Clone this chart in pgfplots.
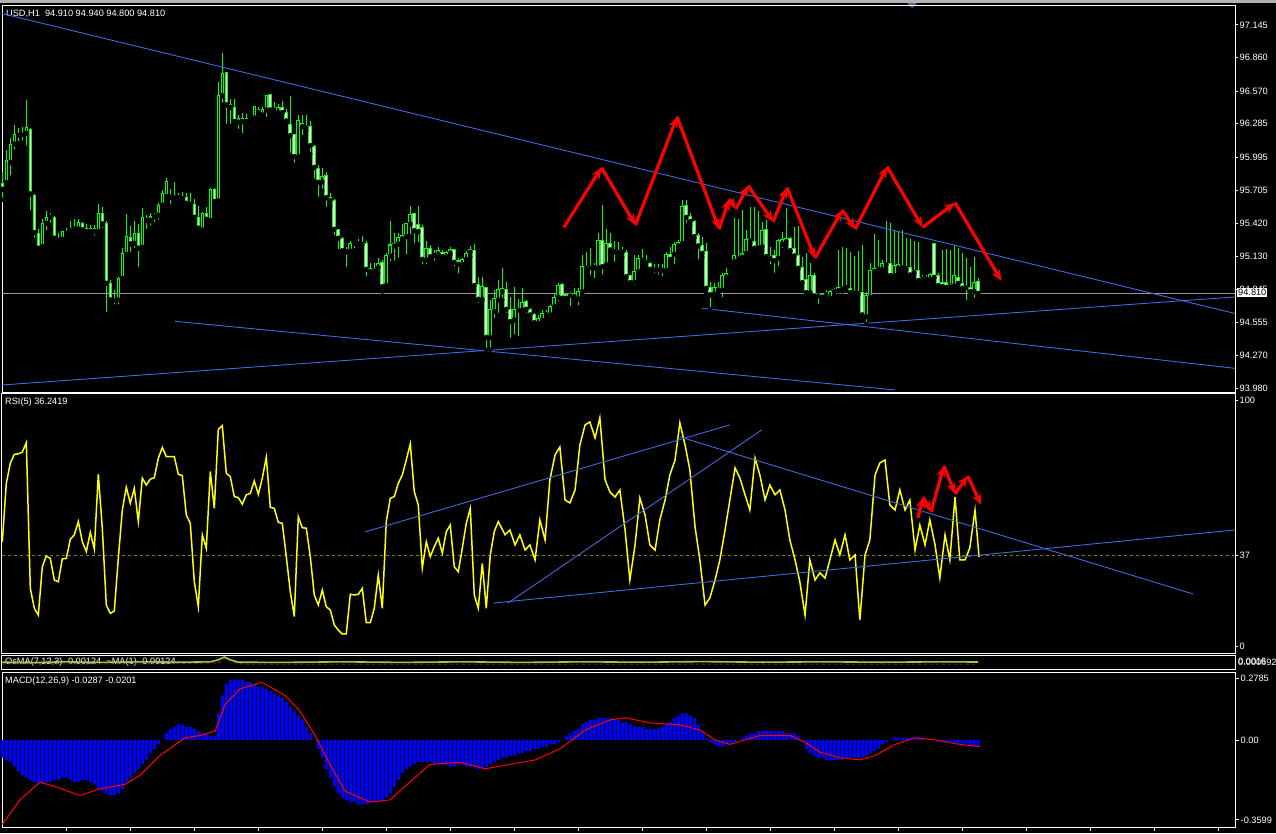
\documentclass[border=0pt]{standalone}
\usepackage{pgfplots}
\pgfplotsset{compat=1.18}
\usepackage{pgfplotstable}
\usepackage{fontspec}
\setmainfont{Liberation Sans}
\usetikzlibrary{arrows.meta}
\definecolor{mtblue}{RGB}{65,105,225}
\definecolor{mtlime}{RGB}{0,255,0}
\definecolor{mtolive}{RGB}{128,128,0}
\definecolor{mtgreen}{RGB}{154,205,50}
\definecolor{mtpurple}{RGB}{150,0,150}
\newcommand\mtfont{\fontsize{9.2}{10}\selectfont}

\pgfplotstableread{
i o h l c
0 95.767 95.869 95.622 95.715
1 95.773 96.057 95.760 95.961
2 95.947 96.159 95.816 96.106
3 96.109 96.275 96.043 96.188
4 96.188 96.246 96.115 96.193
5 96.193 96.254 96.121 96.196
6 96.202 96.492 96.077 96.254
7 96.237 96.245 95.512 95.674
8 95.657 95.674 95.274 95.338
9 95.330 95.367 95.196 95.202
10 95.216 95.457 95.196 95.419
11 95.419 95.526 95.338 95.471
12 95.471 95.506 95.405 95.483
13 95.471 95.486 95.283 95.289
14 95.280 95.338 95.239 95.268
15 95.280 95.352 95.239 95.344
16 95.344 95.376 95.294 95.332
17 95.355 95.436 95.312 95.376
18 95.376 95.454 95.338 95.384
19 95.370 95.457 95.338 95.422
20 95.419 95.428 95.326 95.361
21 95.376 95.413 95.303 95.347
22 95.347 95.405 95.332 95.376
23 95.376 95.405 95.294 95.347
24 95.347 95.587 95.303 95.506
25 95.506 95.558 95.361 95.413
26 95.419 95.440 94.630 94.897
27 94.897 94.926 94.732 94.752
28 94.752 94.839 94.694 94.758
29 94.752 94.955 94.694 94.940
30 94.940 95.202 94.903 95.158
31 95.149 95.500 95.138 95.303
32 95.297 95.396 95.149 95.239
33 95.245 95.439 95.187 95.332
34 95.332 95.413 95.022 95.202
35 95.210 95.550 95.164 95.471
36 95.460 95.492 95.352 95.442
37 95.442 95.506 95.381 95.477
38 95.477 95.506 95.413 95.489
39 95.489 95.593 95.434 95.576
40 95.576 95.709 95.535 95.680
41 95.651 95.816 95.616 95.784
42 95.657 95.715 95.564 95.645
43 95.645 95.776 95.631 95.651
44 95.651 95.680 95.616 95.640
45 95.640 95.692 95.608 95.630
46 95.645 95.680 95.564 95.593
47 95.593 95.680 95.558 95.584
48 95.584 95.631 95.442 95.471
49 95.471 95.570 95.338 95.376
50 95.361 95.521 95.347 95.500
51 95.500 95.564 95.434 95.454
52 95.442 95.729 95.434 95.715
53 95.715 95.729 95.587 95.608
54 95.613 96.652 95.573 96.527
55 96.527 96.898 96.449 96.718
56 96.733 96.739 96.266 96.449
57 96.449 96.498 96.266 96.428
58 96.428 96.501 96.298 96.304
59 96.298 96.362 96.222 96.327
60 96.327 96.376 96.182 96.304
61 96.304 96.370 96.260 96.333
62 96.341 96.347 96.335 96.341
63 96.335 96.440 96.333 96.434
64 96.405 96.428 96.347 96.385
65 96.362 96.428 96.353 96.411
66 96.405 96.527 96.327 96.527
67 96.536 96.536 96.362 96.405
68 96.408 96.478 96.376 96.408
69 96.382 96.454 96.370 96.428
70 96.428 96.483 96.376 96.382
71 96.385 96.411 96.295 96.309
72 96.275 96.527 96.014 96.182
73 96.188 96.188 95.927 95.999
74 95.999 96.362 95.999 96.309
75 96.289 96.362 96.167 96.260
76 96.260 96.362 96.225 96.254
77 96.260 96.309 96.022 96.095
78 96.086 96.100 95.790 95.906
79 95.898 95.927 95.631 95.776
80 95.780 95.898 95.703 95.825
81 95.831 95.869 95.544 95.642
82 95.645 95.686 95.570 95.616
83 95.613 95.631 95.297 95.367
84 95.361 95.370 95.173 95.289
85 95.289 95.297 95.138 95.181
86 95.181 95.216 95.022 95.170
87 95.178 95.268 95.149 95.245
88 95.245 95.265 95.181 95.254
89 95.254 95.280 95.207 95.239
90 95.239 95.309 95.230 95.245
91 95.239 95.265 94.938 95.019
92 95.027 95.071 94.955 94.999
93 95.001 95.077 94.955 95.013
94 95.033 95.115 94.984 95.071
95 95.080 95.100 94.825 94.868
96 94.877 95.164 94.877 95.135
97 95.135 95.439 95.071 95.230
98 95.222 95.338 95.077 95.239
99 95.239 95.332 95.100 95.294
100 95.283 95.413 95.259 95.312
101 95.303 95.425 95.129 95.413
102 95.413 95.570 95.303 95.497
103 95.506 95.512 95.225 95.355
104 95.405 95.570 95.239 95.347
105 95.384 95.405 95.042 95.106
106 95.100 95.265 95.042 95.202
107 95.202 95.230 95.094 95.129
108 95.138 95.187 95.077 95.149
109 95.149 95.216 95.138 95.178
110 95.167 95.187 95.109 95.129
111 95.129 95.178 95.115 95.167
112 95.158 95.210 95.143 95.187
113 95.187 95.187 95.027 95.080
114 95.091 95.115 94.964 95.062
115 95.062 95.115 95.022 95.100
116 95.106 95.178 95.094 95.152
117 95.167 95.222 95.129 95.187
118 95.178 95.239 94.839 94.877
119 94.886 94.955 94.709 94.758
120 94.758 94.955 94.746 94.868
121 94.862 94.862 94.317 94.427
122 94.427 94.752 94.317 94.665
123 94.654 94.839 94.578 94.761
124 94.752 94.926 94.622 94.839
125 94.825 95.028 94.752 94.854
126 94.839 94.912 94.622 94.671
127 94.671 94.781 94.404 94.564
128 94.578 94.868 94.433 94.665
129 94.665 94.758 94.419 94.668
130 94.665 94.854 94.651 94.729
131 94.738 94.752 94.622 94.671
132 94.671 94.680 94.593 94.622
133 94.627 94.636 94.543 94.555
134 94.549 94.622 94.535 94.587
135 94.575 94.665 94.535 94.636
136 94.636 94.665 94.593 94.622
137 94.622 94.709 94.607 94.694
138 94.694 94.804 94.694 94.775
139 94.775 94.897 94.723 94.877
140 94.883 94.897 94.752 94.767
141 94.796 94.810 94.738 94.767
142 94.796 94.825 94.680 94.796
143 94.781 94.854 94.738 94.810
144 94.761 94.854 94.688 94.825
145 94.825 95.144 94.810 95.042
146 95.042 95.173 95.010 95.036
147 95.036 95.202 94.949 95.042
148 95.042 95.071 94.920 95.033
149 95.033 95.332 95.000 95.265
150 95.265 95.579 94.955 95.042
151 95.057 95.367 95.042 95.245
152 95.245 95.332 95.152 95.187
153 95.187 95.268 95.065 95.173
154 95.173 95.259 95.152 95.178
155 95.178 95.216 95.123 95.167
156 95.167 95.187 94.949 94.955
157 94.961 94.970 94.883 94.903
158 94.906 95.144 94.859 95.000
159 95.000 95.144 94.984 95.115
160 95.100 95.193 95.057 95.091
161 95.094 95.144 95.042 95.086
162 95.065 95.086 95.000 95.019
163 95.019 95.065 94.970 95.022
164 95.022 95.065 94.955 95.013
165 95.019 95.065 94.940 95.007
166 95.010 95.173 94.970 95.144
167 95.150 95.216 95.086 95.106
168 95.150 95.259 95.042 95.231
169 95.222 95.274 95.202 95.251
170 95.245 95.622 95.202 95.564
171 95.570 95.622 95.405 95.471
172 95.480 95.506 95.405 95.434
173 95.434 95.448 95.289 95.303
174 95.309 95.332 95.086 95.222
175 95.222 95.303 95.123 95.158
176 95.173 95.245 94.810 94.854
177 94.862 94.912 94.671 94.796
178 94.804 94.897 94.767 94.862
179 94.862 94.912 94.804 94.839
180 94.839 94.984 94.758 94.961
181 94.949 95.028 94.935 94.978
182 94.967 94.970 94.964 94.967
183 95.086 95.463 95.086 95.135
184 95.106 95.454 95.086 95.123
185 95.123 95.535 95.115 95.158
186 95.158 95.361 95.144 95.274
187 95.268 95.558 95.245 95.283
188 95.259 95.564 95.187 95.202
189 95.202 95.526 95.158 95.216
190 95.216 95.434 95.187 95.352
191 95.361 95.448 95.100 95.129
192 95.129 95.216 95.042 95.112
193 95.135 95.187 94.970 95.094
194 95.115 95.280 95.028 95.265
195 95.239 95.347 95.187 95.274
196 95.259 95.550 95.230 95.289
197 95.289 95.303 95.173 95.181
198 95.202 95.390 95.129 95.135
199 95.141 95.396 95.013 95.028
200 95.030 95.129 94.897 94.903
201 94.932 95.158 94.810 94.816
202 94.816 95.071 94.810 94.961
203 94.967 94.984 94.781 94.787
204 94.787 94.810 94.700 94.796
205 94.775 94.810 94.746 94.796
206 94.796 94.839 94.752 94.810
207 94.767 94.839 94.758 94.825
208 94.825 94.854 94.796 94.839
209 94.833 95.187 94.825 94.859
210 94.854 95.216 94.825 94.859
211 94.859 95.202 94.839 94.868
212 94.854 95.173 94.810 94.816
213 94.810 95.135 94.796 94.825
214 94.804 95.181 94.796 94.819
215 94.819 95.230 94.607 94.622
216 94.607 94.825 94.543 94.790
217 94.775 95.071 94.767 95.004
218 95.000 95.326 94.984 95.028
219 95.019 95.274 95.013 95.033
220 95.019 95.100 95.007 95.071
221 95.065 95.439 95.057 95.071
222 95.071 95.419 94.955 94.964
223 94.964 95.361 94.955 95.048
224 95.028 95.347 95.013 95.062
225 95.042 95.361 95.013 95.028
226 95.033 95.289 95.013 95.022
227 95.036 95.280 94.961 94.970
228 94.990 95.268 94.978 95.004
229 95.004 95.259 94.897 94.920
230 94.932 94.970 94.912 94.946
231 94.946 94.970 94.903 94.932
232 94.932 94.990 94.920 94.970
233 95.245 95.245 94.941 94.949
234 94.964 94.984 94.868 94.877
235 94.906 95.187 94.862 94.868
236 94.906 95.193 94.845 94.862
237 94.888 95.187 94.862 94.868
238 94.874 95.230 94.868 94.961
239 94.949 95.207 94.891 94.897
240 94.897 95.164 94.839 94.854
241 94.868 95.120 94.729 94.862
242 94.859 95.036 94.781 94.825
243 94.825 95.129 94.752 94.906
244 94.910 94.940 94.800 94.810
}\candles

\pgfplotstableread{
i v
0 42.5
1 66.3
2 74.5
3 78.1
4 78.3
5 79.0
6 82.9
7 23.5
8 15.4
9 12.6
10 32.3
11 36.7
12 35.7
13 26.9
14 26.2
15 35.5
16 35.7
17 43.5
18 45.3
19 50.7
20 42.5
21 38.5
22 46.3
23 39.5
24 70.0
25 48.0
26 16.7
27 13.3
28 14.3
29 35.7
30 55.4
31 64.7
32 58.2
33 64.3
34 50.7
35 68.4
36 65.6
37 68.0
38 68.6
39 76.5
40 80.9
41 77.2
42 77.2
43 77.2
44 70.0
45 69.4
46 53.4
47 50.0
48 26.2
49 16.0
50 45.3
51 39.8
52 71.1
53 56.1
54 88.3
55 89.8
56 70.4
57 69.0
58 60.9
59 60.5
60 57.8
61 61.6
62 62.2
63 67.3
64 61.8
65 68.4
66 76.9
67 56.5
68 56.1
69 50.4
70 50.0
71 36.4
72 22.2
73 12.0
74 52.7
75 48.2
76 48.0
77 36.4
78 20.8
79 16.7
80 22.8
81 16.0
82 14.7
83 8.6
84 6.5
85 4.9
86 4.9
87 21.1
88 20.8
89 21.1
90 23.5
91 9.5
92 9.5
93 15.4
94 28.9
95 15.4
96 50.7
97 60.2
98 60.9
99 66.3
100 69.7
101 75.8
102 82.4
103 62.9
104 57.5
105 31.7
106 42.5
107 36.4
108 40.5
109 43.9
110 37.8
111 46.6
112 49.3
113 32.3
114 30.3
115 39.8
116 50.0
117 56.1
118 20.8
119 15.4
120 33.7
121 15.4
122 37.1
123 46.6
124 50.7
125.7 45.3
126.9 47.3
128.2 41.2
129.4 45.3
130.7 39.1
131.9 41.2
133.2 35.1
134.4 51.4
135.7 43.2
136.9 67.7
138.2 77.9
139.4 81.1
140.7 59.5
141.9 58.3
143.2 63.6
144.4 81.9
145.7 90.1
146.9 91.3
148.2 84.8
149.4 93.0
150.7 67.7
151.9 62.8
153.2 60.7
154.4 63.6
155.7 47.3
156.9 26.9
158.2 41.2
159.4 60.3
160.7 53.4
161.9 41.2
163.2 39.1
164.4 51.4
165.7 59.5
166.9 69.7
168.2 75.8
169.4 90.9
170.7 81.9
171.9 71.8
173.2 48.5
174.4 35.1
175.7 16.7
176.9 19.6
178.2 26.9
179.4 35.1
180.7 47.3
181.9 59.5
183.2 72.6
184.4 68.5
185.7 61.6
186.9 55.4
188.2 76.6
189.4 69.7
190.7 59.5
191.9 65.6
193.2 61.6
194.4 63.6
195.7 55.4
196.9 43.2
198.2 35.1
199.4 26.1
200.7 12.6
201.9 35.1
203.2 26.9
204.4 29.8
205.7 27.7
206.9 35.1
208.2 43.2
209.4 37.1
210.7 45.3
211.9 35.1
213.2 37.1
214.4 10.6
215.7 37.1
216.9 43.2
218.2 69.7
219.4 74.6
220.7 75.8
221.9 57.5
223.2 55.4
224.4 63.6
225.7 55.4
226.9 59.5
228.2 39.1
229.4 49.3
230.7 41.2
231.9 51.4
233.2 41.2
234.4 27.7
235.7 45.3
236.9 35.1
238.2 60.7
239.4 35.1
240.7 35.1
241.9 40.0
243.2 55.4
244.2 36.2
}\rsi

\pgfplotstableread{
i v
0 -0.08
1 -0.09
2 -0.10
3 -0.12
4 -0.14
5 -0.16
6 -0.17
7 -0.18
8 -0.19
9 -0.20
10 -0.20
11 -0.19
12 -0.19
13 -0.18
14 -0.18
15 -0.17
16 -0.17
17 -0.18
18 -0.19
19 -0.19
20 -0.18
21 -0.18
22 -0.19
23 -0.20
24 -0.22
25 -0.23
26 -0.24
27 -0.25
28 -0.25
29 -0.24
30 -0.22
31 -0.19
32 -0.17
33 -0.15
34 -0.13
35 -0.11
36 -0.09
37 -0.06
38 -0.04
39 -0.02
40 0.00
41 0.03
42 0.05
43 0.06
44 0.07
45 0.07
46 0.06
47 0.06
48 0.05
49 0.04
50 0.03
51 0.03
52 0.02
53 0.02
54 0.12
55 0.20
56 0.25
57 0.27
58 0.27
59 0.27
60 0.27
61 0.26
62 0.26
63 0.25
64 0.24
65 0.24
66 0.23
67 0.22
68 0.21
69 0.20
70 0.19
71 0.17
72 0.15
73 0.13
74 0.11
75 0.09
76 0.06
77 0.03
78 0.00
79 -0.04
80 -0.08
81 -0.13
82 -0.17
83 -0.21
84 -0.24
85 -0.26
86 -0.27
87 -0.28
88 -0.28
89 -0.29
90 -0.29
91 -0.29
92 -0.28
93 -0.28
94 -0.28
95 -0.27
96 -0.26
97 -0.24
98 -0.21
99 -0.18
100 -0.15
101 -0.13
102 -0.12
103 -0.11
104 -0.10
105 -0.10
106 -0.10
107 -0.10
108 -0.11
109 -0.11
110 -0.11
111 -0.11
112 -0.12
113 -0.12
114 -0.11
115 -0.11
116 -0.12
117 -0.12
118 -0.12
119 -0.13
120 -0.13
121 -0.12
122 -0.11
123 -0.10
124 -0.09
125 -0.08
126 -0.08
127 -0.07
128 -0.07
129 -0.06
130 -0.06
131 -0.05
132 -0.05
133 -0.04
134 -0.04
135 -0.03
136 -0.03
137 -0.02
138 -0.02
139 -0.01
140 0.00
141 0.02
142 0.03
143 0.04
144 0.05
145 0.07
146 0.08
147 0.09
148 0.09
149 0.10
150 0.10
151 0.10
152 0.10
153 0.09
154 0.09
155 0.08
156 0.08
157 0.07
158 0.06
159 0.06
160 0.06
161 0.05
162 0.05
163 0.05
164 0.05
165 0.06
166 0.07
167 0.08
168 0.10
169 0.11
170 0.12
171 0.12
172 0.11
173 0.10
174 0.07
175 0.04
176 0.01
177 -0.01
178 -0.02
179 -0.03
180 -0.03
181 -0.02
182 -0.02
183 -0.01
184 0.00
185 0.01
186 0.02
187 0.03
188 0.03
189 0.04
190 0.04
191 0.04
192 0.04
193 0.04
194 0.04
195 0.04
196 0.03
197 0.03
198 0.03
199 0.02
200 -0.01
201 -0.04
202 -0.06
203 -0.07
204 -0.08
205 -0.08
206 -0.09
207 -0.09
208 -0.09
209 -0.09
210 -0.09
211 -0.08
212 -0.08
213 -0.08
214 -0.08
215 -0.08
216 -0.07
217 -0.06
218 -0.05
219 -0.04
220 -0.02
221 -0.01
222 0.00
223 0.01
224 0.01
225 0.01
226 0.01
227 0.01
228 0.01
229 0.01
230 0.01
231 0.00
232 0.00
233 0.00
234 -0.01
235 -0.01
236 -0.01
237 -0.01
238 -0.02
239 -0.02
240 -0.02
241 -0.02
242 -0.03
243 -0.03
244 -0.03
}\macdhist

\pgfplotsset{
  mtaxis/.style={scale only axis, anchor=north west, clip=false,
    axis line style={white, line width=1pt},
    xmin=-0.08, xmax=308.2, xtick=\empty,
    ytick pos=right, yticklabel pos=right, tick align=outside,
    major tick length=3pt, tick style={white, line width=0.8pt},
    yticklabel style={white, font=\mtfont, inner sep=1.5pt},
    xticklabel style={white, font=\mtfont}},
  candle/.style 2 args={only marks, mark=none, forget plot,
    error bars/.cd, y dir=plus, y explicit, error mark=none,
    error bar style={line width=#1, draw=#2, solid}},
  redarr/.style={red, line width=3.2pt, -{Stealth[length=11pt,width=9pt]}},
  tline/.style={mtblue, line width=0.9pt},
}

\begin{document}
\begin{tikzpicture}
\useasboundingbox (0pt,0pt) rectangle (1276pt,-833pt);
\fill[black] (0pt,0pt) rectangle (1276pt,-833pt);
\fill[gray!60] (0pt,0pt) rectangle (1276pt,-3pt);
\fill[gray!70!blue] (907pt,-3pt) -- (917pt,-3pt) -- (912pt,-8pt) -- cycle;

% ---------------- main price panel ----------------
\begin{axis}[mtaxis, at={(2pt,-5pt)}, width=1233pt, height=387pt,
  ymin=93.951, ymax=97.318,
  ytick={97.145,96.86,96.57,96.285,95.995,95.705,95.42,95.13,94.845,94.555,94.27,93.98},
  yticklabels={97.145,96.860,96.570,96.285,95.995,95.705,95.420,95.130,94.845,94.555,94.270,93.980}]
\node[anchor=north west, white, font=\mtfont, inner sep=0pt, xshift=4pt, yshift=-4.5pt] at (rel axis cs:0,1) {USD,H1\ \ 94.910 94.940 94.800 94.810};
\addplot[gray!80, line width=0.8pt] coordinates {(-0.08,94.81) (308.2,94.81)};
% wicks
\addplot[candle={1pt}{mtlime}] table[x=i, y=l, y error plus expr={\thisrow{h}-\thisrow{l}}] {\candles};
% body outline
\addplot[candle={3.6pt}{mtlime}] table[x=i, y expr={min(\thisrow{o},\thisrow{c})-0.0044}, y error plus expr={abs(\thisrow{c}-\thisrow{o})+0.0088}] {\candles};
% bear bodies (white)
\addplot[restrict expr to domain={\thisrow{o}-\thisrow{c}}{0.0089:10}, candle={1.6pt}{white}] table[x=i, y expr={\thisrow{c}+0.0044}, y error plus expr={\thisrow{o}-\thisrow{c}-0.0088}] {\candles};
% bull bodies (black)
\addplot[restrict expr to domain={\thisrow{c}-\thisrow{o}}{0.0089:10}, candle={1.6pt}{black}] table[x=i, y expr={\thisrow{o}+0.0044}, y error plus expr={\thisrow{c}-\thisrow{o}-0.0088}] {\candles};
% trend lines
\addplot[tline] coordinates {(-0.08,97.244) (308.2,94.634)};
\addplot[tline] coordinates {(-0.08,94.012) (308.2,94.778)};
\addplot[tline] coordinates {(43.2,94.566) (223.2,93.969)};
\addplot[tline] coordinates {(174.9,94.680) (308.2,94.157)};
% red zigzag arrows
\addplot[redarr] coordinates {(140.4,95.384) (149.8,95.903)};
\addplot[redarr] coordinates {(149.8,95.903) (158.3,95.404)};
\addplot[redarr] coordinates {(158.3,95.404) (168.7,96.346)};
\addplot[redarr] coordinates {(168.7,96.346) (179.2,95.367)};
\addplot[redarr] coordinates {(179.2,95.367) (181.7,95.630)};
\addplot[redarr] coordinates {(181.7,95.630) (183.4,95.543)};
\addplot[redarr] coordinates {(183.4,95.543) (186.5,95.746)};
\addplot[redarr] coordinates {(186.5,95.746) (192.7,95.433)};
\addplot[redarr] coordinates {(192.7,95.433) (196.2,95.729)};
\addplot[redarr] coordinates {(196.2,95.729) (203.2,95.115)};
\addplot[redarr] coordinates {(203.2,95.115) (210.0,95.535)};
\addplot[redarr] coordinates {(210.0,95.535) (213.2,95.367)};
\addplot[redarr] coordinates {(213.2,95.367) (221.2,95.911)};
\addplot[redarr] coordinates {(221.2,95.911) (230.1,95.384)};
\addplot[redarr] coordinates {(230.1,95.384) (238.2,95.598)};
\addplot[redarr] coordinates {(238.2,95.598) (249.8,94.917)};
\end{axis}
\node[fill=white, text=black, inner sep=1pt, anchor=west, font=\mtfont] at (1237pt,-292.5pt) {94.810};

% ---------------- RSI panel ----------------
\begin{axis}[mtaxis, at={(2pt,-393pt)}, width=1233pt, height=260pt,
  ymin=-2.85, ymax=103.1, ytick={0,37,100}, yticklabels={0,37,100}]
\node[anchor=north west, white, font=\mtfont, inner sep=0pt, xshift=3pt, yshift=-4.5pt] at (rel axis cs:0,1) {RSI(5) 36.2419};
\addplot[mtolive, dashed, line width=0.8pt] coordinates {(-0.08,37) (308.2,37)};
\addplot[color={rgb,255:red,255;green,255;blue,0}, line width=1.5pt] table[x=i, y=v] {\rsi};
\addplot[tline] coordinates {(90.7,46.5) (181.9,90.1)};
\addplot[tline] coordinates {(169.4,85.2) (297.7,21.2)};
\addplot[tline] coordinates {(122.7,17.5) (308.2,47.3)};
\addplot[tline] coordinates {(126.4,17.5) (189.9,88.1)};
\addplot[redarr] coordinates {(228.9,52.2) (230.2,60.7)};
\addplot[redarr] coordinates {(230.2,60.7) (232.2,54.6)};
\addplot[redarr] coordinates {(232.2,54.6) (235.4,73.4)};
\addplot[redarr] coordinates {(235.4,73.4) (238.2,62.0)};
\addplot[redarr] coordinates {(238.2,62.0) (241.4,69.3)};
\addplot[redarr] coordinates {(241.4,69.3) (244.7,57.5)};
\end{axis}

% ---------------- OsMA panel ----------------
\begin{axis}[mtaxis, at={(2pt,-655pt)}, width=1233pt, height=14pt,
  ymin=-0.0042, ymax=0.0028, ytick=\empty]
\node[anchor=north west, white, font=\mtfont, inner sep=0pt, xshift=3pt, yshift=-3pt] at (rel axis cs:0,1) {OsMA(7,12,3) -0.00124 \ \textasciitilde MA(1) -0.00124};
\addplot[mtpurple, dashed, line width=1pt] coordinates {(0,-0.0016) (20,-0.0017) (40,-0.0016) (54,-0.0012) (56,0.0012) (58,-0.0010) (60,-0.0017) (100,-0.0017) (150,-0.0018) (200,-0.0017) (244,-0.0018)};
\addplot[mtgreen, line width=1.6pt] coordinates {(0,-0.0008) (8,-0.0010) (15,-0.0006) (25,-0.0009) (35,-0.0006) (45,-0.0008) (52,-0.0006) (54,0.0004) (55.5,0.0018) (57,0.0004) (59,-0.0008) (70,-0.0009) (85,-0.0006) (100,-0.0009) (115,-0.0006) (130,-0.0009) (145,-0.0006) (160,-0.0008) (175,-0.0005) (190,-0.0008) (205,-0.0006) (220,-0.0008) (235,-0.0006) (244,-0.0007)};
\end{axis}
\node[anchor=west, white, font=\mtfont, inner sep=0pt] at (1238pt,-661.5pt) {0.0016};
\node[anchor=west, white, font=\mtfont, inner sep=0pt] at (1238pt,-662.5pt) {0.000692};

% ---------------- MACD panel ----------------
\begin{axis}[mtaxis, at={(2pt,-672pt)}, width=1233pt, height=155pt,
  ymin=-0.392, ymax=0.306, ytick={-0.3599,0,0.2785}, yticklabels={-0.3599,0.00,0.2785},
  xtick={16,32,...,304}, xticklabels={}, xtick pos=bottom, major tick length=4pt]
\node[anchor=north west, white, font=\mtfont, inner sep=0pt, xshift=3pt, yshift=-4.5pt] at (rel axis cs:0,1) {MACD(12,26,9) -0.0287 -0.0201};
\addplot[ybar, bar width=3pt, fill=blue, draw=none] table[x=i, y=v] {\macdhist};
\addplot[red, line width=1pt] coordinates {(0,-0.38) (4.4,-0.27) (9.4,-0.19) (13.2,-0.21) (19.4,-0.25) (24.4,-0.22) (30.7,-0.20) (34.4,-0.16) (39.4,-0.07) (45.7,0.01) (49.4,0.02) (53.2,0.04) (55.7,0.16) (59.4,0.23) (64.9,0.26) (70.7,0.20) (74.4,0.13) (78.2,0.02) (81.9,-0.11) (85.7,-0.23) (91.9,-0.28) (96.9,-0.27) (101.9,-0.19) (106.9,-0.11) (114.4,-0.10) (120.7,-0.13) (126.9,-0.11) (133.2,-0.09) (139.4,-0.04) (145.7,0.045) (151.9,0.09) (155.7,0.10) (161.9,0.077) (169.4,0.068) (174.4,0.045) (178.2,0.0) (181.9,-0.02) (185.7,0.0) (189.4,0.02) (196.9,0.02) (200.7,-0.01) (204.4,-0.055) (209.4,-0.08) (214.4,-0.09) (218.2,-0.07) (223.2,-0.02) (228.2,0.01) (233.2,0.0) (239.4,-0.02) (244.4,-0.03)};
\end{axis}
\end{tikzpicture}
\end{document}
